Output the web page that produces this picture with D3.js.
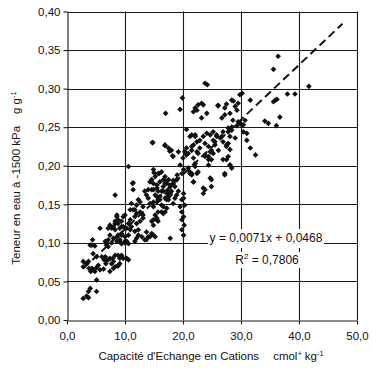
<!DOCTYPE html>
<html>
<head>
<meta charset="utf-8">
<script src="https://cdn.jsdelivr.net/npm/d3@7"></script>
<style>
  body { margin: 0; background: #fff; }
  text { font-family: "Liberation Sans", Arial, sans-serif; fill: #111; }
</style>
</head>
<body>
<script>
'use strict';

// tick values
const xTicks = [0, 10, 20, 30, 40, 50];
const yTicks = [0, 0.05, 0.10, 0.15, 0.20, 0.25, 0.30, 0.35, 0.40];

// regression: slope, intercept, r2, x range of the drawn line
const fit = [0.0071, 0.0468, 0.7806];
const fitRange = [2.8, 47.5];

// CEC (cmol+ kg-1), water content at -1500 kPa (g g-1)
const samples = [
  [2.8,0.028],[3.7,0.029],[3.4,0.031],[4.0,0.041],[3.7,0.037],[5.1,0.037],[5.1,0.052],
  [2.8,0.076],[3.3,0.073],[2.8,0.069],[3.8,0.067],[4.3,0.067],[4.1,0.063],[4.5,0.065],
  [4.8,0.063],[5.7,0.065],[6.3,0.066],[5.1,0.068],[5.4,0.071],[3.7,0.076],[4.5,0.086],
  [4.0,0.097],[4.4,0.104],[5.7,0.119],[6.0,0.082],[5.1,0.082],[6.4,0.078],[6.6,0.082],
  [6.8,0.078],[6.7,0.073],[7.4,0.063],[7.1,0.078],[7.9,0.080],[8.0,0.076],[8.3,0.084],
  [8.8,0.084],[9.4,0.084],[9.7,0.080],[10.6,0.078],[10.3,0.080],[9.1,0.073],[8.8,0.070],
  [8.0,0.067],[8.3,0.069],[7.7,0.073],[7.4,0.080],[9.1,0.080],[8.8,0.071],[4.8,0.096],
  [7.1,0.095],[8.3,0.162],[7.4,0.123],[7.7,0.119],[7.1,0.119],[8.0,0.106],[6.8,0.097],
  [7.1,0.104],[6.6,0.102],[8.3,0.117],[8.8,0.125],[9.4,0.128],[9.7,0.134],[10.0,0.136],
  [8.6,0.102],[9.1,0.102],[9.4,0.099],[10.0,0.102],[8.8,0.110],[9.4,0.110],[10.6,0.099],
  [10.3,0.102],[10.3,0.119],[10.9,0.117],[10.6,0.125],[11.3,0.177],[11.4,0.169],
  [11.1,0.151],[11.4,0.143],[11.7,0.134],[10.9,0.130],[11.1,0.121],[12.0,0.125],
  [12.3,0.117],[11.7,0.115],[11.7,0.102],[12.0,0.106],[12.6,0.140],[12.9,0.138],
  [13.1,0.136],[13.7,0.162],[14.0,0.158],[14.3,0.151],[14.9,0.153],[15.5,0.160],
  [13.4,0.167],[14.0,0.169],[14.9,0.169],[15.7,0.167],[16.6,0.167],[17.5,0.167],
  [17.8,0.164],[16.0,0.156],[16.6,0.147],[16.9,0.140],[16.3,0.140],[15.5,0.132],
  [15.7,0.128],[14.9,0.130],[14.0,0.108],[15.2,0.108],[13.7,0.104],[14.6,0.112],
  [18.3,0.151],[18.6,0.158],[18.9,0.162],[19.8,0.156],[19.5,0.147],[17.2,0.156],
  [17.5,0.160],[17.8,0.162],[19.8,0.130],[14.3,0.179],[14.9,0.177],[15.5,0.175],
  [17.8,0.173],[18.3,0.177],[17.2,0.177],[18.9,0.182],[12.3,0.156],[12.0,0.149],
  [8.6,0.134],[8.3,0.128],[9.4,0.121],[10.6,0.199],[12.6,0.153],[13.1,0.147],
  [10.9,0.143],[11.7,0.143],[12.0,0.138],[13.1,0.132],[12.6,0.128],[8.6,0.136],
  [8.8,0.130],[8.3,0.125],[9.7,0.121],[9.1,0.119],[8.0,0.121],[7.4,0.110],[8.6,0.108],
  [9.4,0.112],[10.0,0.108],[10.6,0.110],[12.3,0.110],[12.9,0.108],[13.7,0.114],
  [14.3,0.108],[13.4,0.104],[4.3,0.097],[6.8,0.100],[7.7,0.100],[9.1,0.104],[10.0,0.100],
  [20.1,0.164],[20.1,0.158],[20.3,0.149],[19.8,0.140],[20.1,0.134],[20.2,0.123],
  [19.8,0.117],[20.1,0.110],[17.8,0.106],[14.9,0.110],
  [21.8,0.179],[21.5,0.188],[21.2,0.190],[23.5,0.164],[23.8,0.169],[24.9,0.173],
  [24.7,0.184],[24.4,0.201],[24.9,0.208],
  [14.9,0.195],[15.7,0.190],[16.3,0.192],[15.2,0.186],[16.9,0.186],[16.0,0.179],
  [16.9,0.177],[17.5,0.182],[17.8,0.175],[16.6,0.173],[15.5,0.171],[14.6,0.169],
  [16.3,0.167],[17.2,0.164],[18.0,0.167],[15.2,0.162],[16.0,0.160],[16.9,0.158],
  [17.5,0.156],[15.5,0.153],[14.9,0.147],[16.3,0.149],[17.2,0.145],[15.7,0.140],
  [15.2,0.136],[16.6,0.138],[14.6,0.128],[15.5,0.130],[14.9,0.123],[18.3,0.212],
  [19.2,0.218],[20.6,0.214],[21.8,0.210],[22.6,0.216],[23.8,0.212],[24.4,0.208],
  [22.1,0.203],[20.9,0.197],[21.5,0.190],[22.6,0.192],[19.5,0.201],[20.1,0.195],
  [18.9,0.182],[18.6,0.173],[19.2,0.167],
  [11.4,0.178],[14.7,0.230],[17.0,0.268],[19.5,0.273],[19.9,0.288],[16.9,0.226],
  [17.7,0.219],[18.2,0.213],[20.6,0.247],[14.6,0.182],[15.0,0.191],[15.9,0.190],
  [16.6,0.182],[17.2,0.180],[20.0,0.210],[20.3,0.218],[20.9,0.216],[19.8,0.190],
  [19.0,0.188],[18.3,0.181],
  [36.4,0.342],[35.6,0.325],[41.7,0.303],[38.0,0.293],[39.3,0.293],[35.9,0.285],
  [36.2,0.286],[35.6,0.283],[36.7,0.263],[34.1,0.258],[34.7,0.255],[36.1,0.252],
  [31.6,0.285],[30.2,0.294],[29.8,0.292],[29.5,0.281],[29.0,0.277],[29.3,0.272],
  [28.4,0.285],[27.2,0.275],[27.2,0.266],[28.1,0.268],[30.7,0.259],[30.4,0.253],
  [29.8,0.255],[29.3,0.252],[28.4,0.250],[27.8,0.249],[30.4,0.244],[31.0,0.233],
  [31.6,0.223],[32.5,0.214],[29.0,0.236],[28.1,0.238],[27.8,0.229],[27.5,0.225],
  [28.1,0.221],[27.8,0.212],[27.5,0.208],[28.1,0.201],[28.4,0.197],[27.2,0.190],
  [23.8,0.307],[24.2,0.305],[22.1,0.275],[22.6,0.279],[23.2,0.281],[23.5,0.279],
  [21.8,0.270],[22.4,0.272],[23.2,0.262],[24.1,0.268],[26.1,0.278],[26.7,0.262],
  [21.5,0.240],[22.1,0.238],[22.4,0.231],[22.9,0.233],[23.5,0.238],[24.1,0.242],
  [23.8,0.229],[24.7,0.240],[25.2,0.233],[25.8,0.238],[26.4,0.236],[26.9,0.231],
  [27.5,0.227],[25.5,0.227],[24.4,0.225],[24.9,0.220],[22.9,0.223],[21.8,0.227],
  [21.5,0.220],[22.4,0.218],[26.1,0.220],[14.8,0.230],[16.9,0.227],[17.5,0.223],
  [18.0,0.220],[25.2,0.244],[25.5,0.231],[24.7,0.218],[25.2,0.216],[24.4,0.212],
  [23.8,0.214],[22.1,0.199],[21.2,0.192],[22.4,0.190],[21.8,0.179],[24.9,0.182],
  [23.5,0.171],[27.2,0.188],[28.1,0.201],[26.9,0.208],[28.7,0.284],[27.5,0.280],
  [26.0,0.278],[28.6,0.259],[29.5,0.257],[30.1,0.253],[31.0,0.242],[28.4,0.246],
  [27.8,0.244],[26.9,0.244],[26.7,0.238],[25.8,0.240],[20.6,0.223],[21.2,0.238],
  [22.1,0.240],[21.5,0.225]
];

const width = 372, height = 369;

const svg = d3.select('body')
  .append('svg')
  .attr('width', width)
  .attr('height', height);

const xScale = d3.scaleLinear().domain([0, 50]).range([67, 357]);
const yScale = d3.scaleLinear().domain([0, 0.40]).range([320, 11.5]);

const fmtX = d => d3.format('.1f')(d).replace('.', ',');
const fmtY = d => d3.format('.2f')(d).replace('.', ',');

// horizontal gridlines
svg.append('g')
  .selectAll('line')
  .data(yTicks.filter(d => d > 0))
  .enter()
  .append('line')
    .attr('x1', xScale(0))
    .attr('x2', xScale(50))
    .attr('y1', d => Math.round(yScale(d)) + 0.5)
    .attr('y2', d => Math.round(yScale(d)) + 0.5)
    .attr('stroke', '#1a1a1a')
    .attr('stroke-width', 1.1);

// vertical gridlines
svg.append('g')
  .selectAll('line')
  .data(xTicks.filter(d => d > 0))
  .enter()
  .append('line')
    .attr('x1', d => Math.round(xScale(d)) + 0.5)
    .attr('x2', d => Math.round(xScale(d)) + 0.5)
    .attr('y1', yScale(0.40))
    .attr('y2', yScale(0))
    .attr('stroke', '#1a1a1a')
    .attr('stroke-width', 1.1);

// axes
const xAxis = d3.axisBottom(xScale).tickValues(xTicks).tickFormat(fmtX)
  .tickSize(4).tickSizeOuter(0);
const gx = svg.append('g')
  .attr('transform', `translate(0, ${Math.round(yScale(0)) + 0.5})`)
  .call(xAxis);
gx.selectAll('text')
  .attr('dy', null)
  .attr('y', 19)
  .style('font-size', '11.5px')
  .style('font-family', '"Liberation Sans", Arial, sans-serif');

const yAxis = d3.axisLeft(yScale).tickValues(yTicks).tickFormat(fmtY)
  .tickSize(4).tickSizeOuter(0);
const gy = svg.append('g')
  .attr('transform', `translate(${Math.round(xScale(0)) + 0.5}, 0)`)
  .call(yAxis);
gy.selectAll('text')
  .attr('x', -7)
  .style('font-size', '11.5px')
  .style('font-family', '"Liberation Sans", Arial, sans-serif');

svg.selectAll('.domain, .tick line')
  .attr('stroke', '#1a1a1a')
  .attr('stroke-width', 1.1);
svg.selectAll('.tick text').attr('fill', '#111');

// data points as small diamonds
const diamond = d3.symbol().type(d3.symbolSquare).size(16);
svg.append('g')
  .selectAll('path')
  .data(samples)
  .enter()
  .append('path')
    .attr('d', diamond)
    .attr('transform', d => `translate(${xScale(d[0])}, ${yScale(d[1])}) rotate(45)`)
    .attr('fill', '#111');

// regression line
const line = d3.line()
  .x(d => xScale(d))
  .y(d => yScale(fit[0] * d + fit[1]));

svg.append('path')
  .datum(fitRange)
  .attr('d', line)
  .attr('fill', 'none')
  .attr('stroke', '#111')
  .attr('stroke-width', 2)
  .attr('stroke-dasharray', '8,4.5');

// equation labels with white boxes
const eqText = 'y = ' + String(fit[0]).replace('.', ',') + 'x + ' + String(fit[1]).replace('.', ',');
svg.append('rect')
  .attr('x', 208).attr('y', 229).attr('width', 116).attr('height', 19)
  .attr('fill', '#fff');
svg.append('rect')
  .attr('x', 230).attr('y', 252).attr('width', 74).attr('height', 16)
  .attr('fill', '#fff');

svg.append('text')
  .attr('x', 266)
  .attr('y', 242)
  .attr('text-anchor', 'middle')
  .style('font-size', '12px')
  .text(eqText);

const r2 = svg.append('text')
  .attr('x', 267)
  .attr('y', 264)
  .attr('text-anchor', 'middle')
  .style('font-size', '12px');
r2.append('tspan').text('R');
r2.append('tspan').attr('dy', -5).style('font-size', '8px').text('2');
r2.append('tspan').attr('dy', 5).text(' = ' + String(fit[2]).replace('.', ','));

// axis titles
const xt = svg.append('text')
  .attr('x', 211)
  .attr('y', 360)
  .attr('text-anchor', 'middle')
  .style('font-size', '11.5px');
xt.append('tspan').text("Capacité d'Echange en Cations");
xt.append('tspan').attr('dx', 14).text('cmol');
xt.append('tspan').attr('dy', -4).style('font-size', '7.5px').text('+');
xt.append('tspan').attr('dy', 4).attr('dx', 3).text('kg');
xt.append('tspan').attr('dy', -4).style('font-size', '7.5px').text('-1');

const yt = svg.append('text')
  .attr('transform', 'translate(20, 178) rotate(-90)')
  .attr('text-anchor', 'middle')
  .style('font-size', '11.5px');
yt.append('tspan').text('Teneur en eau à -1500 kPa');
yt.append('tspan').attr('dx', 12).text('g g');
yt.append('tspan').attr('dy', -4).style('font-size', '7.5px').text('-1');
</script>
</body>
</html>
